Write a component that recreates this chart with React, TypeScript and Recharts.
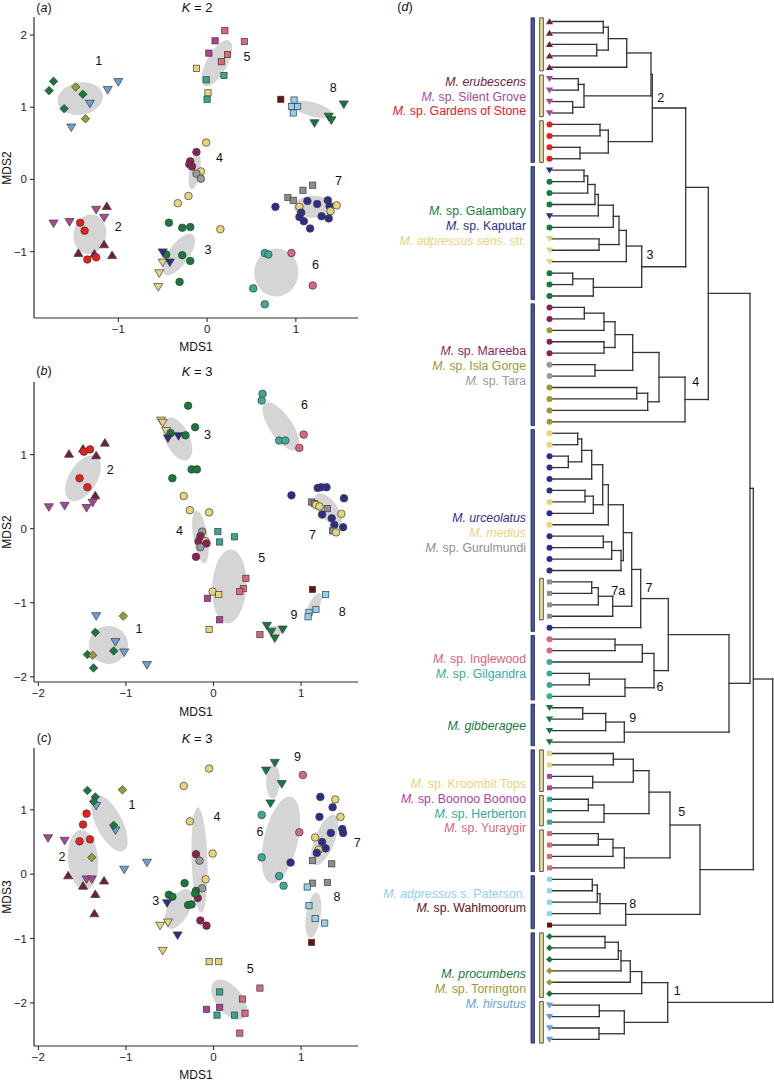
import React from "react"
import { ReferenceArea, ReferenceLine, Scatter, ScatterChart, XAxis, YAxis } from "recharts"

const FONT = '"Liberation Sans", Arial, Helvetica, sans-serif'
const INK = "#2e2e2e"

type Kind = "circle" | "square" | "diamond" | "up" | "down"

const species: Record<string, { color: string; kind: Kind }> = {
  eru: { color: "#72203a", kind: "up" },
  sil: { color: "#a8489c", kind: "down" },
  gos: { color: "#e8201c", kind: "circle" },
  gal: { color: "#157a3c", kind: "circle" },
  kap: { color: "#2d2f86", kind: "down" },
  adp: { color: "#e6d47c", kind: "down" },
  mar: { color: "#8c1f55", kind: "circle" },
  isl: { color: "#9c9a32", kind: "circle" },
  tar: { color: "#9a9a9a", kind: "circle" },
  urc: { color: "#2e2e8a", kind: "circle" },
  med: { color: "#e8d47a", kind: "circle" },
  gur: { color: "#8e8e8e", kind: "square" },
  ing: { color: "#d9667a", kind: "circle" },
  gil: { color: "#3aab98", kind: "circle" },
  gib: { color: "#15793d", kind: "down" },
  kro: { color: "#e6d47a", kind: "square" },
  boo: { color: "#b03f9c", kind: "square" },
  her: { color: "#37a795", kind: "square" },
  yur: { color: "#d96878", kind: "square" },
  pat: { color: "#8ed0f0", kind: "square" },
  wah: { color: "#6a1010", kind: "square" },
  pro: { color: "#157a3c", kind: "diamond" },
  tor: { color: "#9c9a35", kind: "diamond" },
  hir: { color: "#6b9fd9", kind: "down" },
}

// ---- panel (a) K = 2 : MDS1 vs MDS2
const pointsA: [number, number, string][] = [
  [-1.73, 1.36, "pro"], [-1.78, 1.23, "pro"], [-1.48, 1.28, "tor"], [-1.4, 1.18, "pro"], [-1.61, 0.98, "pro"], [-1.37, 0.84, "tor"],
  [-1.53, 0.72, "hir"], [-1.32, 1.05, "hir"], [-1.12, 1.24, "hir"], [-1.0, 1.35, "hir"],
  [0.2, 2.06, "yur"], [0.09, 1.92, "boo"], [0.42, 1.91, "yur"], [0.02, 1.75, "boo"], [0.23, 1.73, "yur"], [0.16, 1.63, "yur"],
  [-0.12, 1.54, "kro"], [-0.01, 1.38, "her"], [0.19, 1.44, "her"], [0.01, 1.2, "kro"], [0.0, 1.11, "her"],
  [0.83, 1.11, "wah"], [0.98, 1.1, "pat"], [0.95, 1.01, "pat"], [1.02, 1.01, "pat"], [0.97, 0.92, "pat"],
  [1.54, 1.04, "gib"], [1.37, 0.87, "gib"], [1.4, 0.82, "gib"], [1.21, 0.78, "gib"],
  [-0.01, 0.51, "med"], [-0.12, 0.38, "mar"], [-0.19, 0.25, "mar"], [-0.2, 0.21, "mar"], [-0.17, 0.18, "mar"], [-0.07, 0.11, "med"],
  [-0.12, 0.08, "tar"], [-0.07, 0.01, "tar"], [-0.21, -0.23, "med"], [-0.33, -0.33, "med"],
  [0.91, -0.25, "gur"], [0.97, -0.29, "gur"], [1.08, -0.15, "gur"], [1.19, -0.08, "gur"], [0.77, -0.38, "urc"], [1.04, -0.38, "med"],
  [1.13, -0.3, "urc"], [1.24, -0.34, "urc"], [1.36, -0.29, "urc"], [1.38, -0.37, "urc"], [1.46, -0.36, "med"], [1.39, -0.44, "med"],
  [1.06, -0.46, "urc"], [1.04, -0.52, "urc"], [1.09, -0.58, "urc"], [1.29, -0.51, "urc"], [1.37, -0.54, "urc"], [1.16, -0.68, "urc"],
  [-1.73, -0.61, "sil"], [-1.55, -0.59, "sil"], [-1.25, -0.42, "sil"], [-1.16, -0.53, "sil"], [-1.13, -0.37, "eru"],
  [-1.43, -0.6, "gos"], [-1.38, -0.71, "gos"], [-1.16, -0.9, "eru"], [-1.45, -1.02, "eru"], [-1.27, -1.03, "eru"], [-1.07, -1.05, "eru"],
  [-1.35, -1.11, "gos"], [-1.25, -1.08, "gos"],
  [-0.43, -0.6, "gal"], [-0.28, -0.67, "gal"], [-0.19, -0.66, "gal"], [0.15, -0.69, "med"], [-0.46, -1.04, "gal"], [-0.28, -1.05, "gal"],
  [-0.5, -1.15, "adp"], [-0.5, -1.01, "kap"], [-0.42, -1.15, "kap"], [-0.19, -1.13, "gal"], [-0.54, -1.3, "adp"], [-0.55, -1.49, "adp"],
  [-0.31, -1.42, "gal"],
  [0.65, -1.02, "gil"], [0.69, -1.04, "gil"], [0.95, -1.02, "ing"], [0.52, -1.51, "gil"], [0.65, -1.73, "gil"], [1.19, -1.47, "ing"],
]
const ellipsesA = [
  [-1.43, 1.12, 0.255, 0.055, 0.7],
  [0.11, 1.61, 0.141, 0.312, 0.4],
  [1.19, 0.97, 0.218, -0.072, 0.35],
  [-0.14, 0.11, 0.034, 0.245, 0.3],
  [1.19, -0.38, 0.214, 0.005, 0.58],
  [-1.32, -0.76, 0.045, 0.27, 0.82],
  [-0.32, -1.04, 0.158, 0.277, 0.42],
  [0.78, -1.29, 0.01, 0.332, 0.92],
]
const labelsA: [number, number, string][] = [
  [-1.22, 1.64, "1"], [0.45, 1.7, "5"], [1.42, 1.26, "8"], [0.14, 0.3, "4"],
  [1.48, -0.02, "7"], [-1.0, -0.66, "2"], [0.01, -0.98, "3"], [1.22, -1.18, "6"],
]

// ---- panel (b) K = 3 : MDS1 vs MDS2
const pointsB: [number, number, string][] = [
  [-1.65, 1.01, "eru"], [-1.49, 1.08, "eru"], [-1.48, 1.04, "gos"], [-1.41, 1.07, "gos"], [-1.34, 0.99, "eru"], [-1.24, 1.16, "eru"],
  [-1.53, 0.68, "gos"], [-1.44, 0.56, "gos"], [-1.35, 0.45, "eru"], [-1.88, 0.29, "sil"], [-1.7, 0.31, "sil"], [-1.45, 0.28, "sil"],
  [-1.38, 0.35, "sil"],
  [-0.6, 1.46, "adp"], [-0.58, 1.43, "adp"], [-0.54, 1.32, "adp"], [-0.29, 1.66, "gal"], [-0.21, 1.37, "gal"], [-0.49, 1.29, "gal"],
  [-0.32, 1.26, "gal"], [-0.52, 1.22, "kap"], [-0.4, 1.25, "kap"], [-0.25, 0.8, "gal"], [-0.19, 0.8, "gal"], [-0.47, 0.68, "gal"],
  [-0.34, 0.44, "med"], [-0.27, 0.25, "med"], [-0.05, 0.22, "med"], [-0.13, -0.04, "tar"], [-0.15, -0.1, "mar"], [-0.17, -0.17, "mar"],
  [-0.09, -0.17, "med"], [-0.08, -0.2, "mar"], [-0.15, -0.25, "tar"], [-0.2, -0.38, "mar"],
  [0.89, 0.45, "urc"], [1.19, 0.55, "urc"], [1.23, 0.56, "urc"], [1.29, 0.56, "urc"], [1.49, 0.41, "urc"], [1.12, 0.36, "gur"],
  [1.15, 0.34, "gur"], [1.3, 0.27, "gur"], [1.17, 0.32, "med"], [1.21, 0.3, "med"], [1.24, 0.19, "urc"], [1.35, 0.14, "urc"],
  [1.46, 0.2, "med"], [1.38, 0.05, "urc"], [1.48, 0.02, "urc"], [1.36, -0.03, "gur"], [1.4, -0.05, "med"],
  [0.56, 1.82, "gil"], [0.55, 1.73, "gil"], [0.75, 1.19, "gil"], [0.82, 1.19, "gil"], [1.03, 1.27, "ing"], [0.98, 1.09, "ing"],
  [0.05, -0.04, "her"], [0.24, -0.11, "her"], [0.07, -0.18, "her"], [0.37, -0.67, "yur"], [0.34, -0.81, "yur"], [0.3, -0.85, "yur"],
  [-0.01, -0.85, "med"], [0.06, -0.89, "kro"], [-0.07, -0.94, "boo"], [0.07, -1.23, "boo"], [-0.05, -1.36, "kro"], [0.53, -1.43, "yur"],
  [1.13, -0.82, "wah"], [1.28, -0.89, "pat"], [1.17, -1.09, "pat"], [1.09, -1.13, "pat"], [1.08, -1.19, "pat"],
  [0.61, -1.31, "gib"], [0.66, -1.39, "gib"], [0.79, -1.36, "gib"], [0.7, -1.48, "gib"],
  [-1.34, -1.18, "hir"], [-1.03, -1.18, "tor"], [-1.35, -1.4, "pro"], [-1.12, -1.53, "hir"], [-1.02, -1.67, "hir"],
  [-1.14, -1.65, "pro"], [-1.44, -1.7, "pro"], [-1.38, -1.71, "tor"], [-1.37, -1.88, "pro"], [-0.76, -1.84, "hir"],
]
const ellipsesB = [
  [-1.49, 0.68, 0.152, 0.293, 0.55],
  [-0.41, 1.21, 0.114, -0.281, 0.52],
  [-0.15, -0.11, 0.048, -0.358, 0.27],
  [1.31, 0.26, 0.133, -0.2025, 0.48],
  [0.77, 1.38, 0.181, -0.315, 0.4],
  [0.18, -0.78, 0.023, 0.5, 0.46],
  [1.15, -1.03, 0.071, 0.158, 0.38],
  [0.7, -1.38, 0.091, 0.005, 0.6],
  [-1.2, -1.57, 0.223, 0.005, 0.97],
]
const labelsB: [number, number, string][] = [
  [-1.18, 0.79, "2"], [-0.07, 1.27, "3"], [-0.39, -0.03, "4"], [1.13, -0.09, "7"], [1.04, 1.67, "6"],
  [0.55, -0.4, "5"], [1.47, -1.13, "8"], [0.92, -1.17, "9"], [-0.85, -1.35, "1"],
]

// ---- panel (c) K = 3 : MDS1 vs MDS3
const pointsC: [number, number, string][] = [
  [-1.34, 1.06, "hir"], [-1.12, 0.68, "hir"], [-1.44, 1.3, "pro"], [-1.35, 1.2, "pro"], [-1.37, 1.13, "pro"], [-1.04, 1.31, "tor"],
  [-1.14, 0.76, "pro"], [-1.39, 0.26, "tor"], [-1.02, 0.07, "hir"], [-0.76, 0.18, "hir"],
  [-1.45, 0.94, "gos"], [-1.49, 0.77, "gos"], [-1.53, 0.51, "gos"], [-1.41, 0.54, "gos"], [-1.89, 0.56, "sil"], [-1.7, 0.52, "sil"],
  [-1.66, -0.02, "eru"], [-1.45, -0.08, "sil"], [-1.39, -0.08, "sil"], [-1.49, -0.18, "eru"], [-1.25, -0.1, "eru"],
  [-1.35, -0.31, "eru"], [-1.36, -0.61, "eru"],
  [-0.34, 1.37, "med"], [-0.05, 1.64, "med"], [-0.27, 0.82, "med"], [-0.01, 0.32, "med"], [-0.2, 0.31, "mar"], [-0.16, 0.21, "tar"],
  [-0.09, -0.08, "med"], [-0.13, -0.22, "tar"], [-0.18, -0.37, "mar"], [-0.15, -0.72, "mar"], [-0.08, -0.8, "mar"],
  [-0.33, -0.14, "gal"], [-0.51, -0.32, "gal"], [-0.47, -0.35, "gal"], [-0.2, -0.26, "gal"], [-0.21, -0.3, "gal"], [-0.29, -0.48, "gal"],
  [-0.25, -0.47, "gal"], [-0.53, -0.45, "kap"], [-0.41, -0.95, "kap"], [-0.61, -0.8, "adp"], [-0.52, -0.75, "adp"], [-0.58, -1.19, "adp"],
  [0.7, 1.73, "gib"], [0.6, 1.61, "gib"], [0.78, 1.4, "gib"], [0.65, 1.1, "gib"], [1.02, 1.54, "ing"], [0.55, 0.92, "gil"],
  [0.98, 0.65, "ing"], [0.55, 0.26, "gil"], [0.88, 0.18, "urc"], [0.75, -0.03, "gil"], [0.8, -0.18, "gil"],
  [1.22, 1.2, "urc"], [1.39, 1.16, "med"], [1.36, 1.04, "urc"], [1.21, 0.89, "urc"], [1.45, 0.89, "med"], [1.47, 0.7, "urc"],
  [1.48, 0.64, "urc"], [1.34, 0.64, "urc"], [1.16, 0.57, "med"], [1.24, 0.5, "urc"], [1.28, 0.4, "urc"], [1.2, 0.38, "med"],
  [1.18, 0.33, "urc"],
  [1.13, 0.21, "gur"], [1.35, 0.16, "gur"], [1.13, -0.14, "gur"], [1.3, -0.13, "gur"], [1.07, -0.2, "pat"], [1.09, -0.49, "pat"],
  [1.16, -0.69, "pat"], [1.27, -0.76, "pat"], [1.12, -1.06, "wah"],
  [-0.05, -1.36, "kro"], [0.06, -1.36, "kro"], [0.53, -1.77, "yur"], [0.07, -1.83, "her"], [0.33, -1.94, "yur"], [-0.08, -2.1, "boo"],
  [0.07, -2.07, "boo"], [0.04, -2.19, "her"], [0.24, -2.19, "her"], [0.36, -2.16, "yur"], [0.3, -2.47, "yur"],
]
const ellipsesC = [
  [-1.19, 0.79, 0.162, -0.428, 0.42],
  [-1.49, 0.22, 0.03, -0.467, 0.5],
  [-0.16, 0.22, 0.019, -0.82, 0.15],
  [-0.4, -0.54, 0.114, 0.298, 0.5],
  [0.68, 1.44, 0.005, 0.264, 0.41],
  [0.77, 0.53, 0.114, 0.673, 0.38],
  [1.27, 0.53, 0.114, 0.389, 0.37],
  [1.14, -0.64, 0.038, 0.35, 0.32],
  [0.18, -1.95, 0.171, -0.285, 0.55],
]
const labelsC: [number, number, string][] = [
  [-0.93, 1.08, "1"], [-1.73, 0.27, "2"], [0.04, 0.89, "4"], [-0.66, -0.42, "3"], [0.96, 1.82, "9"],
  [0.53, 0.66, "6"], [1.64, 0.49, "7"], [1.41, -0.36, "8"], [0.42, -1.47, "5"],
]

// ---- panel (d) dendrogram
const leafSpecies = [
  "eru", "eru", "eru", "eru", "eru", "sil", "sil", "sil", "sil", "gos", "gos", "gos", "gos",
  "kap", "gal", "gal", "gal", "kap", "gal", "adp", "adp", "adp", "gal", "gal", "gal",
  "mar", "mar", "isl", "mar", "mar", "tar", "tar", "isl", "isl", "isl", "isl",
  "med", "med", "urc", "urc", "urc", "urc", "med", "urc", "med", "urc", "urc", "urc", "urc", "gur", "gur", "gur", "gur", "urc",
  "ing", "ing", "gil", "gil", "gil", "gil",
  "gib", "gib", "gib", "gib",
  "kro", "kro", "boo", "boo", "her", "her", "her", "yur", "yur", "yur", "yur",
  "pat", "pat", "pat", "pat", "wah",
  "pro", "pro", "pro", "tor", "tor", "pro", "hir", "hir", "hir", "hir",
]

type Tree = number | [Tree, Tree, number]

const erubescensTree: Tree = [[[0, 1, 58.3], [2, 3, 51.7], 63.3], 4, 81.7]
const silentGroveTree: Tree = [[5, 6, 33.3], [7, 8, 27.7], 39]
const gardensTree: Tree = [[9, 10, 55], [11, 12, 35], 63.3]
const group2: Tree = [[erubescensTree, silentGroveTree, 106], gardensTree, 107.3]

const g3a: Tree = [[[[[13, 14, 39], 15, 42.7], 16, 50], 17, 53.3], 18, 68.3]
const g3b: Tree = [[g3a, [19, 20, 54], 74], 21, 81.3]
const group3: Tree = [g3b, [[22, 23, 27.7], 24, 48.3], 96.7]

const g4a: Tree = [[[[25, 26, 39.3], 27, 59], [28, 29, 59], 70], [30, 31, 50], 87.7]
const group4: Tree = [[g4a, [[32, 33, 91.7], 34, 102.7], 114], 35, 140]

const g7a: Tree = [[[36, 37, 32.7], [38, 39, 23.3], 36.7], 40, 46.7]
const g7b: Tree = [[[g7a, [[41, 42, 40], 43, 48.3], 57.7], 44, 63.3], [[[45, 46, 58.3], 47, 66.7], 48, 76], 78.3]
const tree7a: Tree = [[[49, 50, 46.7], 51, 53.3], 52, 67.7]
const group7: Tree = [[g7b, tree7a, 86.7], 53, 95.7]

const group6: Tree = [[[54, 55, 70], 56, 97.3], [[57, 58, 44.3], 59, 80], 109]
const group9: Tree = [[[60, 61, 37.7], 62, 60.7], 63, 79.3]

const g5a: Tree = [[[64, 65, 68.3], [66, 67, 47.7], 88.3], [[68, 69, 43.3], 70, 59], 104]
const group5: Tree = [g5a, [[[71, 72, 53.3], 73, 68], 74, 79.3], 125]
const group8: Tree = [[[[75, 76, 47.3], 77, 52.3], 78, 55], 79, 80.7]

const g1a: Tree = [[[[[80, 81, 60], 82, 73.3], 83, 76], 84, 85.3], 85, 96.7]
const group1: Tree = [g1a, [[86, 87, 54.3], [88, 89, 54], 79.3], 122.7]

const upper: Tree = [[[group2, group3, 140.7], group4, 163.3], [[group7, group6, 123.3], group9, 184], 205]
const rootTree: Tree = [[upper, [group5, group8, 155], 208.3], group1, 227.7]

const LEAF_H = 7
const blueBars = [[0, 12], [13, 24], [25, 35], [36, 53], [54, 59], [60, 63], [64, 74], [75, 79], [80, 89]]
const yellowBars = [[0, 4], [5, 8], [9, 12], [49, 52], [64, 67], [68, 70], [71, 74], [80, 85], [86, 89]]

const speciesLabels: { y: number; lines: [string, string, string][] }[] = [
  { y: 6.57, lines: [["eru", " erubescens", ""], ["sil", "", " sp. Silent Grove"], ["gos", "", " sp. Gardens of Stone"]] },
  { y: 17.9, lines: [["gal", "", " sp. Galambary"], ["kap", "", " sp. Kaputar"], ["adp", " adpressus", " sens. str."]] },
  { y: 30.1, lines: [["mar", "", " sp. Mareeba"], ["isl", "", " sp. Isla Gorge"], ["tar", "", " sp. Tara"]] },
  { y: 44.7, lines: [["urc", " urceolatus", ""], ["med", " medius", ""], ["gur", "", " sp. Gurulmundi"]] },
  { y: 56.4, lines: [["ing", "", " sp. Inglewood"], ["gil", "", " sp. Gilgandra"]] },
  { y: 61.6, lines: [["gib", " gibberagee", ""]] },
  { y: 68.6, lines: [["kro", "", " sp. Kroombit Tops"], ["boo", "", " sp. Boonoo Boonoo"], ["her", "", " sp. Herberton"], ["yur", "", " sp. Yuraygir"]] },
  { y: 76.9, lines: [["pat", " adpressus", " s. Paterson."], ["wah", "", " sp. Wahlmoorum"]] },
  { y: 84.6, lines: [["pro", " procumbens", ""], ["tor", "", " sp. Torrington"], ["hir", " hirsutus", ""]] },
]
const clusterTags: [number, number, string][] = [
  [115.7, 6.7, "2"], [105, 20.4, "3"], [150.7, 31.5, "4"], [73.3, 49.8, "7a"], [104, 49.5, "7"],
  [115, 58.2, "6"], [87.7, 60.9, "9"], [136.7, 69.1, "5"], [87.7, 77.2, "8"], [132.3, 84.8, "1"],
]

// ---------------------------------------------------------------------------

const Marker = ({ cx, cy, sp, size, outline }: any) => {
  const { color, kind } = species[sp]
  const stroke = outline ? "#3c3c3c" : "none"
  const sw = outline ? 0.7 : 0
  if (kind === "circle") return <circle cx={cx} cy={cy} r={size / 2} fill={color} stroke={stroke} strokeWidth={sw} />
  if (kind === "square") {
    const s = size * 0.82
    return <rect x={cx - s / 2} y={cy - s / 2} width={s} height={s} fill={color} stroke={stroke} strokeWidth={sw} />
  }
  if (kind === "diamond") {
    const d = size * 0.56
    return <polygon points={`${cx},${cy - d} ${cx + d},${cy} ${cx},${cy + d} ${cx - d},${cy}`} fill={color} stroke={stroke} strokeWidth={sw} />
  }
  const w = size * 0.6
  const a = size * 0.55
  const b = size * 0.45
  const pts =
    kind === "up"
      ? `${cx},${cy - a} ${cx + w},${cy + b} ${cx - w},${cy + b}`
      : `${cx},${cy + a} ${cx + w},${cy - b} ${cx - w},${cy - b}`
  return <polygon points={pts} fill={color} stroke={stroke} strokeWidth={sw} strokeLinejoin="round" />
}

const ellipseShape = (slope: number, ratio: number) => (props: any) => {
  const { x, y, width, height } = props
  const cx = x + width / 2
  const cy = y + height / 2
  const r = Math.hypot(width, height) / 2
  const ang = ((Math.atan2(height, width) * 180) / Math.PI) * (slope >= 0 ? -1 : 1)
  return <ellipse cx={cx} cy={cy} rx={r} ry={r * ratio} transform={`rotate(${ang} ${cx} ${cy})`} fill="#d5d5d5" />
}

const minus = (v: number) => String(v).replace("-", "\u2212")
const tickStyle = { fill: "#1e1e1e", fontSize: 11.5, fontFamily: FONT }

const Panel = ({ top, height, points, ellipses, labels, xDomain, yDomain, xTicks, yTicks }: any) => (
  <div style={{ position: "absolute", left: 0, top, width: 370, height }}>
    <ScatterChart width={370} height={height} margin={{ top: 17, right: 12, bottom: 0, left: 0 }}>
      <XAxis
        type="number"
        dataKey="x"
        domain={xDomain}
        ticks={xTicks}
        height={32}
        tick={tickStyle}
        tickFormatter={minus}
        tickSize={4}
        tickMargin={3}
        axisLine={{ stroke: INK, strokeWidth: 1.2 }}
        tickLine={{ stroke: INK, strokeWidth: 1.1 }}
      />
      <YAxis
        type="number"
        dataKey="y"
        domain={yDomain}
        ticks={yTicks}
        width={34}
        tick={tickStyle}
        tickFormatter={minus}
        tickSize={4}
        tickMargin={3}
        axisLine={{ stroke: INK, strokeWidth: 1.2 }}
        tickLine={{ stroke: INK, strokeWidth: 1.1 }}
      />
      {ellipses.map(([cx, cy, dx, dy, ratio]: number[], i: number) => (
        <ReferenceArea
          key={i}
          x1={cx - dx}
          x2={cx + dx}
          y1={cy - dy}
          y2={cy + dy}
          ifOverflow="visible"
          shape={ellipseShape(dx * dy, ratio)}
        />
      ))}
      <Scatter
        data={points.map(([x, y, sp]: any) => ({ x, y, sp }))}
        isAnimationActive={false}
        shape={(p: any) => <Marker cx={p.cx} cy={p.cy} sp={p.payload.sp} size={7.6} outline />}
      />
      <Scatter
        data={labels.map(([x, y, text]: any) => ({ x, y, text }))}
        isAnimationActive={false}
        fill="#111"
        shape={(p: any) => (
          <text x={p.cx} y={p.cy} textAnchor="middle" dominantBaseline="central" fontSize={12.5} fontFamily={FONT} fill="#111" stroke="none">
            {p.payload.text}
          </text>
        )}
      />
    </ScatterChart>
  </div>
)

const buildSegments = (t: Tree, segs: number[][]): { y: number; h: number } => {
  if (typeof t === "number") return { y: t, h: LEAF_H }
  const a = buildSegments(t[0], segs)
  const b = buildSegments(t[1], segs)
  const h = t[2]
  segs.push([a.h, a.y, h, a.y], [b.h, b.y, h, b.y], [h, a.y, h, b.y])
  return { y: (a.y + b.y) / 2, h }
}

const SpeciesLabel = ({ cx, cy, payload }: any) => {
  const n = payload.lines.length
  return (
    <g>
      {payload.lines.map(([sp, ital, roman]: string[], k: number) => (
        <text
          key={k}
          x={cx}
          y={cy + (k - (n - 1) / 2) * 14.8}
          textAnchor="end"
          dominantBaseline="central"
          fontSize={12.3}
          fontFamily={FONT}
          fill={species[sp].color}
        >
          <tspan fontStyle="italic">{"M." + ital}</tspan>
          {roman ? <tspan>{roman}</tspan> : null}
        </text>
      ))}
    </g>
  )
}

const Dendrogram = () => {
  const segs: number[][] = []
  buildSegments(rootTree, segs)
  return (
    <div style={{ position: "absolute", left: 370, top: 0, width: 404, height: 1082 }}>
      <ScatterChart width={404} height={1082} margin={{ top: 0, right: 0, bottom: 0, left: 0 }}>
        <XAxis type="number" dataKey="x" domain={[-175, 229]} allowDataOverflow hide />
        <YAxis type="number" dataKey="y" domain={[-1.88, 92.72]} allowDataOverflow reversed hide />
        {blueBars.map(([s, e], i) => (
          <ReferenceArea key={"b" + i} x1={-14} x2={-10.5} y1={s - 0.32} y2={e + 0.32} fill="#4556a6" fillOpacity={1} stroke="#2a2a2a" strokeWidth={0.8} ifOverflow="visible" />
        ))}
        {yellowBars.map(([s, e], i) => (
          <ReferenceArea key={"y" + i} x1={-5.3} x2={-1.7} y1={s - 0.32} y2={e + 0.32} fill="#efe58e" fillOpacity={1} stroke="#2a2a2a" strokeWidth={0.8} ifOverflow="visible" />
        ))}
        {segs.map(([x1, y1, x2, y2], i) => (
          <ReferenceLine
            key={"s" + i}
            segment={[{ x: x1, y: y1 }, { x: x2, y: y2 }]}
            stroke="#333"
            strokeWidth={1.3}
            strokeLinecap="square"
            ifOverflow="visible"
          />
        ))}
        <Scatter
          data={leafSpecies.map((sp, i) => ({ x: 4.5, y: i, sp }))}
          isAnimationActive={false}
          shape={(p: any) => <Marker cx={p.cx} cy={p.cy} sp={p.payload.sp} size={6} />}
        />
        <Scatter
          data={speciesLabels.map((g) => ({ x: -19, y: g.y, lines: g.lines }))}
          isAnimationActive={false}
          shape={(p: any) => <SpeciesLabel {...p} />}
        />
        <Scatter
          data={clusterTags.map(([x, y, text]) => ({ x, y, text }))}
          isAnimationActive={false}
          fill="#111"
          shape={(p: any) => (
            <text x={p.cx} y={p.cy} textAnchor="middle" dominantBaseline="central" fontSize={12.5} fontFamily={FONT} fill="#111" stroke="none">
              {p.payload.text}
            </text>
          )}
        />
      </ScatterChart>
    </div>
  )
}

const Txt = ({ x, y, children, size = 12, rotate = false }: any) => (
  <div
    style={{
      position: "absolute",
      left: x,
      top: y,
      transform: `translate(-50%, -50%)${rotate ? " rotate(-90deg)" : ""}`,
      fontSize: size,
      fontFamily: FONT,
      color: "#111",
      whiteSpace: "nowrap",
      lineHeight: 1,
    }}
  >
    {children}
  </div>
)

const App = () => (
  <div style={{ position: "absolute", left: 0, top: 0, width: 774, height: 1082, background: "#fff", overflow: "hidden" }}>
    <Panel
      top={0}
      height={350}
      points={pointsA}
      ellipses={ellipsesA}
      labels={labelsA}
      xDomain={[-1.95, 1.7]}
      yDomain={[-1.92, 2.25]}
      xTicks={[-1, 0, 1]}
      yTicks={[-1, 0, 1, 2]}
    />
    <Panel
      top={365}
      height={349}
      points={pointsB}
      ellipses={ellipsesB}
      labels={labelsB}
      xDomain={[-2.05, 1.65]}
      yDomain={[-2.07, 1.98]}
      xTicks={[-2, -1, 0, 1]}
      yTicks={[-2, -1, 0, 1]}
    />
    <Panel
      top={731}
      height={347}
      points={pointsC}
      ellipses={ellipsesC}
      labels={labelsC}
      xDomain={[-2.05, 1.65]}
      yDomain={[-2.67, 1.96]}
      xTicks={[-2, -1, 0, 1]}
      yTicks={[-2, -1, 0, 1]}
    />
    <Dendrogram />

    <Txt x={44} y={7.5} size={12.5}>(<i>a</i>)</Txt>
    <Txt x={197} y={7} size={13}><i>K</i> = 2</Txt>
    <Txt x={44} y={371} size={12.5}>(<i>b</i>)</Txt>
    <Txt x={197} y={371} size={13}><i>K</i> = 3</Txt>
    <Txt x={44} y={737.5} size={12.5}>(<i>c</i>)</Txt>
    <Txt x={197} y={737.5} size={13}><i>K</i> = 3</Txt>
    <Txt x={405} y={7} size={12.5}>(<i>d</i>)</Txt>

    <Txt x={196} y={347} size={12}>MDS1</Txt>
    <Txt x={196} y={711.5} size={12}>MDS1</Txt>
    <Txt x={196} y={1075} size={12}>MDS1</Txt>
    <Txt x={7} y={168} size={12} rotate>MDS2</Txt>
    <Txt x={7} y={532} size={12} rotate>MDS2</Txt>
    <Txt x={7} y={897} size={12} rotate>MDS3</Txt>
  </div>
)

export default App
